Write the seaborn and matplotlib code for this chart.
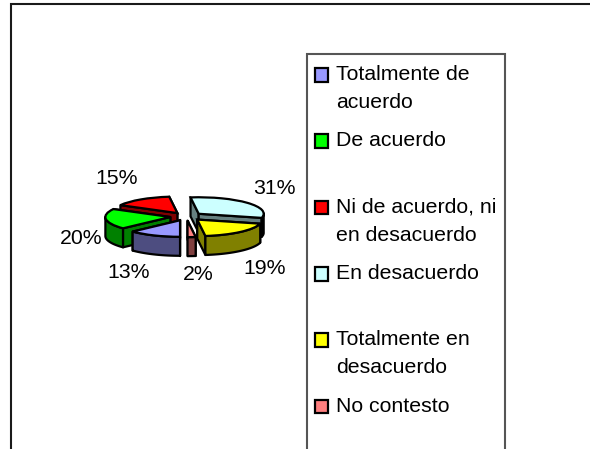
import numpy as np
import matplotlib
matplotlib.use("Agg")
import matplotlib.pyplot as plt
from matplotlib.patches import Polygon, Rectangle
import seaborn as sns

categories = ["Totalmente de\nacuerdo", "De acuerdo\n ", "Ni de acuerdo, ni\nen desacuerdo",
              "En desacuerdo\n ", "Totalmente en\ndesacuerdo", "No contesto\n "]
values = [13, 20, 15, 31, 19, 2]
top_colors = ["#9999FF", "#00FF00", "#FF0000", "#CCFFFF", "#FFFF00", "#FF8080"]
side_colors = ["#4D4D80", "#008000", "#800000", "#668080", "#808000", "#804040"]
label_xy = [(129, 273), (81, 239), (117, 179), (274, 189), (265, 269), (198, 275)]

sns.set_theme(style="white")
plt.rcParams["font.family"] = ["Liberation Sans", "DejaVu Sans"]
FS = 15.3
W, H = 590, 449
CX, CY, RX, RY, DEPTH = 186.5, 216.5, 65.0, 16.5, 19.0

fig = plt.figure(figsize=(W / 100, H / 100), dpi=100, facecolor="white")
over = fig.add_axes([0, 0, 1, 1], zorder=1)
pie = fig.add_axes([0, 0, 1, 1], zorder=2)
palette = sns.color_palette(top_colors)

wedges, _ = pie.pie(values, colors=palette, startangle=270, counterclock=False,
                    explode=[0.25] * len(values), radius=1.0,
                    wedgeprops=dict(edgecolor="black", linewidth=1.6))
pie.set_aspect("auto")
pie.set_xlim(-CX / RX, (W - CX) / RX)
pie.set_ylim(-(H - CY) / RY, CY / RY)
pie.patch.set_alpha(0)
pie.set_axis_off()

d = DEPTH / RY
order = sorted(range(len(values)), key=lambda i: -wedges[i].center[1])
for rank, i in enumerate(order):
    w = wedges[i]
    c = np.array(w.center)
    z = 10 + rank * 10
    faces = []
    for t in (w.theta1, w.theta2):
        p = c + [np.cos(np.radians(t)), np.sin(np.radians(t))]
        faces.append(np.array([c, p, p - [0, d], c - [0, d]]))
    faces.sort(key=lambda q: -q[:, 1].mean())
    ts = np.radians(np.linspace(w.theta1, w.theta2, 80))
    ts = ts[np.sin(ts) <= 0.02]
    if len(ts) > 1:
        arc = np.column_stack([c[0] + np.cos(ts), c[1] + np.sin(ts)])
        faces.append(np.vstack([arc, arc[::-1] - [0, d]]))
    for k, q in enumerate(faces):
        pie.add_patch(Polygon(q, closed=True, facecolor=side_colors[i], edgecolor="black",
                              linewidth=1.6, joinstyle="round", zorder=z + k))
    w.set_zorder(z + 5)

# frame, labels and legend in pixel coordinates
over.plot([11, 11, W], [H, 4, 4], color="#1a1a1a", lw=1.5, solid_joinstyle="miter")
over.set_xlim(0, W)
over.set_ylim(H, 0)
over.set_axis_off()
for v, (x, y) in zip(values, label_xy):
    over.text(x, y, f"{v}%", fontsize=FS, ha="center", va="center", color="black")

over.add_patch(Rectangle((307, 54), 198, 420, facecolor="white", edgecolor="#555555",
                         linewidth=1.5, zorder=3))
leg = over.legend(wedges, categories, loc="upper left", bbox_to_anchor=(315, 65),
                  bbox_transform=over.transData, borderaxespad=0, fontsize=FS,
                  frameon=False, handlelength=0.6, handleheight=0.6, handletextpad=0.4,
                  borderpad=0, labelspacing=0.91, labelcolor="black")
leg.set_zorder(4)
for txt in leg.get_texts():
    txt.set_linespacing(1.6)
for hp in leg._legend_handle_box.get_children()[0].get_children():
    hp.align = "top"
for h in leg.legend_handles:
    h.set_y(h.get_y() - 2.2)

fig.savefig("out.png", dpi=100)
